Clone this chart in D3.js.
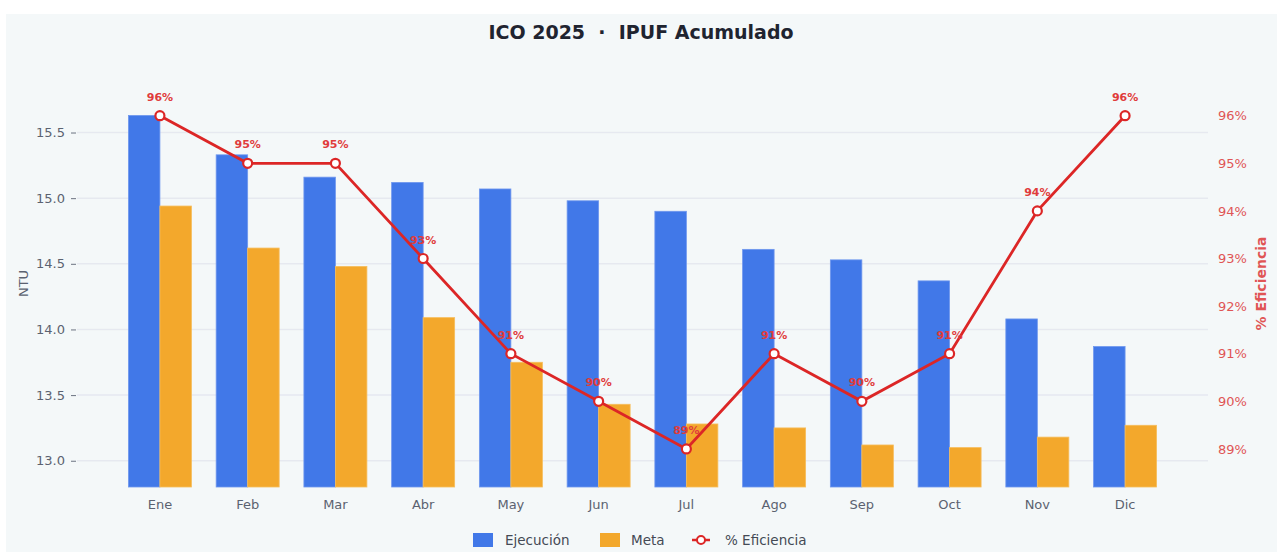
<!DOCTYPE html>
<html>
<head>
<meta charset="utf-8">
<script src="https://cdn.jsdelivr.net/npm/d3@7"></script>
<style>
  body { margin: 0; background: #fff; }
  svg { display: block; font-family: "DejaVu Sans", "Open Sans", sans-serif; }
</style>
</head>
<body>
<div id="chart"></div>
<script>
// data
var meses = ["Ene", "Feb", "Mar", "Abr", "May", "Jun", "Jul", "Ago", "Sep", "Oct", "Nov", "Dic"];
var ejecucion = [15.63, 15.33, 15.16, 15.12, 15.07, 14.98, 14.90, 14.61, 14.53, 14.37, 14.08, 13.87];
var meta = [14.94, 14.62, 14.48, 14.09, 13.75, 13.43, 13.28, 13.25, 13.12, 13.10, 13.18, 13.27];
var eficiencia = [96, 95, 95, 93, 91, 90, 89, 91, 90, 91, 94, 96];
var ntuTicks = [13.0, 13.5, 14.0, 14.5, 15.0, 15.5];
var efTicks = [89, 90, 91, 92, 93, 94, 95, 96];

var W = 1277, H = 554;
var pLeft = 77, pRight = 1208, pTop = 80, pBottom = 487;

var svg = d3.select("#chart").append("svg")
    .attr("width", W)
    .attr("height", H)

svg.append("rect")
    .attr("x", 6).attr("y", 14)
    .attr("width", W - 6).attr("height", H - 16)
    .attr("fill", "#f4f8f9")

// scales
var x = d3.scalePoint().domain(meses).range([pLeft, pRight]).padding(0.945);
var sub = d3.scaleBand().domain(["ej", "me"]).range([-31.5, 31.5]);
var y = d3.scaleLinear().domain([12.8, 15.9]).range([pBottom, pTop]);
var y2 = d3.scaleLinear().domain([88.2, 96.75]).range([pBottom, pTop]);

// grid
svg.append("g").selectAll("line")
    .data(ntuTicks).enter().append("line")
    .attr("x1", pLeft).attr("x2", pRight)
    .attr("y1", function(d) { return y(d) }).attr("y2", function(d) { return y(d) })
    .attr("stroke", "#e6e9f0").attr("stroke-width", 1.5)

// left axis
var yAxis = svg.append("g")
    .attr("transform", "translate(" + (pLeft - 1) + ",0)")
    .call(d3.axisLeft(y).tickValues(ntuTicks).tickFormat(d3.format(".1f")).tickSize(5).tickPadding(6))
yAxis.select(".domain").remove();
yAxis.selectAll("line").attr("stroke", "#6b7280");
yAxis.selectAll("text").attr("fill", "#5b6270").style("font-size", "13px").style("font-family", "DejaVu Sans");

// right axis
var y2Axis = svg.append("g")
    .attr("transform", "translate(" + (pRight + 4) + ",0)")
    .call(d3.axisRight(y2).tickValues(efTicks).tickFormat(function(d) { return d + "%" }).tickSize(0).tickPadding(6))
y2Axis.select(".domain").remove();
y2Axis.selectAll("text").attr("fill", "#e05555").style("font-size", "13px").style("font-family", "DejaVu Sans");

// x labels
svg.append("g").selectAll("text")
    .data(meses).enter().append("text")
    .attr("x", function(d) { return x(d) })
    .attr("y", 509)
    .attr("text-anchor", "middle")
    .attr("fill", "#5b6270")
    .style("font-size", "13px")
    .text(function(d) { return d })

// axis titles
svg.append("text")
    .attr("transform", "translate(28," + ((pTop + pBottom) / 2) + ") rotate(-90)")
    .attr("text-anchor", "middle")
    .attr("fill", "#5b6270")
    .style("font-size", "13px")
    .text("NTU")

svg.append("text")
    .attr("transform", "translate(1266," + ((pTop + pBottom) / 2) + ") rotate(-90)")
    .attr("text-anchor", "middle")
    .attr("fill", "#e05555")
    .style("font-size", "14px")
    .style("font-weight", "bold")
    .text("% Eficiencia")

// bars
var bars = svg.append("g");
bars.selectAll(".ej")
    .data(ejecucion).enter().append("rect")
    .attr("x", function(d, i) { return x(meses[i]) + sub("ej") })
    .attr("y", function(d) { return y(d) })
    .attr("width", sub.bandwidth())
    .attr("height", function(d) { return pBottom - y(d) })
    .attr("fill", "#4178e8")
    .attr("stroke", "#6f97ee").attr("stroke-width", 0.8)

bars.selectAll(".me")
    .data(meta).enter().append("rect")
    .attr("x", function(d, i) { return x(meses[i]) + sub("me") })
    .attr("y", function(d) { return y(d) })
    .attr("width", sub.bandwidth())
    .attr("height", function(d) { return pBottom - y(d) })
    .attr("fill", "#f3a82c")
    .attr("stroke", "#f6bd5c").attr("stroke-width", 0.8)

// efficiency line
var line = d3.line()
    .x(function(d, i) { return x(meses[i]) })
    .y(function(d) { return y2(d) })

svg.append("path")
    .datum(eficiencia)
    .attr("d", line)
    .attr("fill", "none")
    .attr("stroke", "#dc2626")
    .attr("stroke-width", 2.8)

svg.append("g").selectAll("circle")
    .data(eficiencia).enter().append("circle")
    .attr("cx", function(d, i) { return x(meses[i]) })
    .attr("cy", function(d) { return y2(d) })
    .attr("r", 4.5)
    .attr("fill", "#fff")
    .attr("stroke", "#dc2626")
    .attr("stroke-width", 2.2)

svg.append("g").selectAll("text")
    .data(eficiencia).enter().append("text")
    .attr("x", function(d, i) { return x(meses[i]) })
    .attr("y", function(d) { return y2(d) - 15 })
    .attr("text-anchor", "middle")
    .attr("fill", "#e03c3c")
    .style("font-size", "11px")
    .style("font-weight", "bold")
    .text(function(d) { return d + "%" })

// title
svg.append("text")
    .attr("x", 641).attr("y", 39)
    .attr("text-anchor", "middle")
    .attr("fill", "#1f2430")
    .style("font-size", "19px")
    .style("font-weight", "bold")
    .style("white-space", "pre")
    .text("ICO 2025  ·  IPUF Acumulado")

// legend
var lg = svg.append("g").attr("transform", "translate(0,540)");
lg.append("rect").attr("x", 473).attr("y", -7).attr("width", 20).attr("height", 14).attr("fill", "#4178e8");
lg.append("text").attr("x", 505).attr("y", 5).attr("fill", "#444a55").style("font-size", "13.5px").text("Ejecución");
lg.append("rect").attr("x", 600).attr("y", -7).attr("width", 20).attr("height", 14).attr("fill", "#f3a82c");
lg.append("text").attr("x", 631).attr("y", 5).attr("fill", "#444a55").style("font-size", "13.5px").text("Meta");
lg.append("line").attr("x1", 692).attr("x2", 710).attr("y1", 0).attr("y2", 0).attr("stroke", "#dc2626").attr("stroke-width", 2.5);
lg.append("circle").attr("cx", 701).attr("cy", 0).attr("r", 4).attr("fill", "#fff").attr("stroke", "#dc2626").attr("stroke-width", 2);
lg.append("text").attr("x", 725).attr("y", 5).attr("fill", "#444a55").style("font-size", "13.5px").text("% Eficiencia");
</script>
</body>
</html>
